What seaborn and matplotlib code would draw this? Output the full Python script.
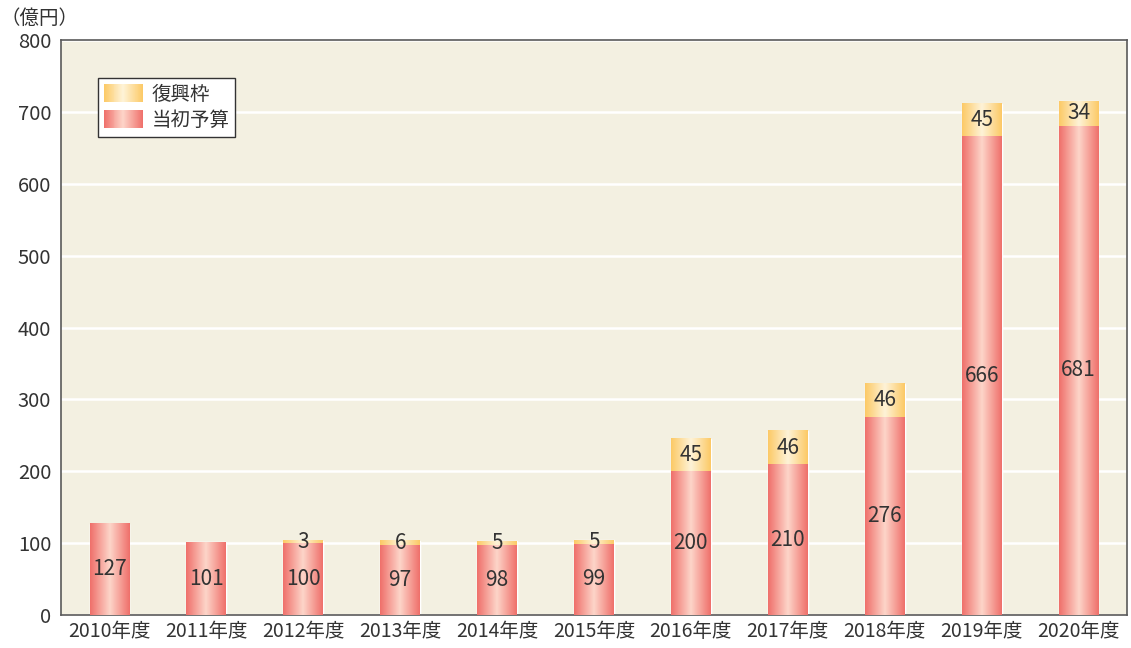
import numpy as np
import pandas as pd
import matplotlib
matplotlib.use('Agg')
import matplotlib.pyplot as plt
import seaborn as sns
from matplotlib.colors import LinearSegmentedColormap
from matplotlib.patches import Rectangle
from matplotlib.legend_handler import HandlerBase

# datos (億円)
nendo = ['2010年度', '2011年度', '2012年度', '2013年度', '2014年度', '2015年度',
         '2016年度', '2017年度', '2018年度', '2019年度', '2020年度']
tosho = [127, 101, 100, 97, 98, 99, 200, 210, 276, 666, 681]   # 当初予算
fukko = [0, 0, 3, 6, 5, 5, 45, 46, 46, 45, 34]                  # 復興枠

df = pd.DataFrame({'nendo': nendo, 'tosho': tosho, 'fukko': fukko})
df['total'] = df['tosho'] + df['fukko']

sns.set_style('white')
plt.rcParams['font.family'] = ['Noto Sans CJK JP', 'DejaVu Sans']

texto = '#333333'
borde = '#5a5a5a'

cmap_rojo = LinearSegmentedColormap.from_list('rojo', ['#ef6f6a', '#fdd5c9', '#ef6f6a'])
cmap_amar = LinearSegmentedColormap.from_list('amar', ['#fcc965', '#fef3d8', '#fcc965'])

fig = plt.figure(figsize=(11.31, 6.48), dpi=100)
ax = fig.add_axes([0.0539, 0.0509, 0.9426, 0.8873])
ax.set_facecolor('#f3f0e1')

# total primero (amarillo), despues el inicial encima (rojo)
sns.barplot(data=df, x='nendo', y='total', color='#fdd27a', width=0.41,
            saturation=1, ax=ax, zorder=2)
sns.barplot(data=df, x='nendo', y='tosho', color='#f07a72', width=0.41,
            saturation=1, ax=ax, zorder=2)

n = len(nendo)
barras_tot = ax.patches[:n]
barras_ini = ax.patches[n:]

grad = np.linspace(0, 1, 256).reshape(1, -1)
for pt, pi in zip(barras_tot, barras_ini):
    x0 = pi.get_x()
    w = pi.get_width()
    h_ini = pi.get_height()
    h_tot = pt.get_height()
    ax.imshow(grad, cmap=cmap_rojo, extent=[x0, x0 + w, 0, h_ini],
              aspect='auto', zorder=3, interpolation='bilinear')
    if h_tot > h_ini:
        ax.imshow(grad, cmap=cmap_amar, extent=[x0, x0 + w, h_ini, h_tot],
                  aspect='auto', zorder=3, interpolation='bilinear')
    xc = x0 + w / 2
    ax.text(xc, h_ini / 2, str(int(h_ini)), ha='center', va='center',
            fontsize=15, color=texto, zorder=5)
    if h_tot > h_ini:
        ax.text(xc, (h_ini + h_tot) / 2, str(int(round(h_tot - h_ini))),
                ha='center', va='center', fontsize=15, color=texto, zorder=5)

ax.set_xlim(-0.5, n - 0.5)
ax.set_ylim(0, 800)
ax.set_yticks(range(0, 801, 100))
ax.set_xlabel('')
ax.set_ylabel('')

ax.yaxis.grid(True, color='white', linewidth=1.8)
ax.set_axisbelow(True)

ax.set_xticks(np.arange(0.5, n - 0.5, 1), minor=True)
ax.tick_params(axis='x', which='major', length=0, labelsize=14,
               labelcolor=texto, pad=4)
ax.tick_params(axis='x', which='minor', direction='in', length=7,
               color=borde, width=1)
ax.tick_params(axis='y', direction='in', length=6, color=borde,
               labelsize=14.5, labelcolor=texto, pad=7)

for s in ax.spines.values():
    s.set_visible(True)
    s.set_color(borde)
    s.set_linewidth(1.2)

fig.text(0.0, 0.972, '（億円）', fontsize=14, color=texto, va='center', ha='left')


# leyenda con degradado
class HandlerDegradado(HandlerBase):
    def __init__(self, cmap):
        super().__init__()
        self.cmap = cmap

    def create_artists(self, legend, orig_handle, xdescent, ydescent,
                       width, height, fontsize, trans):
        k = 40
        arts = []
        for j in range(k):
            arts.append(Rectangle((-xdescent + width * j / k, -ydescent),
                                  width / k * 1.1, height,
                                  facecolor=self.cmap((j + 0.5) / k),
                                  edgecolor='none', transform=trans))
        return arts


h_amar = Rectangle((0, 0), 1, 1)
h_rojo = Rectangle((0, 0), 1, 1)
leg = ax.legend([h_amar, h_rojo], ['復興枠', '当初予算'],
                handler_map={h_amar: HandlerDegradado(cmap_amar),
                             h_rojo: HandlerDegradado(cmap_rojo)},
                loc='upper left', bbox_to_anchor=(0.0347, 0.934),
                borderaxespad=0, fontsize=14, frameon=True, fancybox=False,
                handlelength=2.0, handleheight=1.05, handletextpad=0.45,
                labelspacing=0.25, borderpad=0.3, labelcolor=texto)
leg.get_frame().set_edgecolor('#333333')
leg.get_frame().set_linewidth(1)
leg.get_frame().set_facecolor('white')
leg.get_frame().set_alpha(1)
leg.set_zorder(10)

fig.savefig('out.png', dpi=100)
